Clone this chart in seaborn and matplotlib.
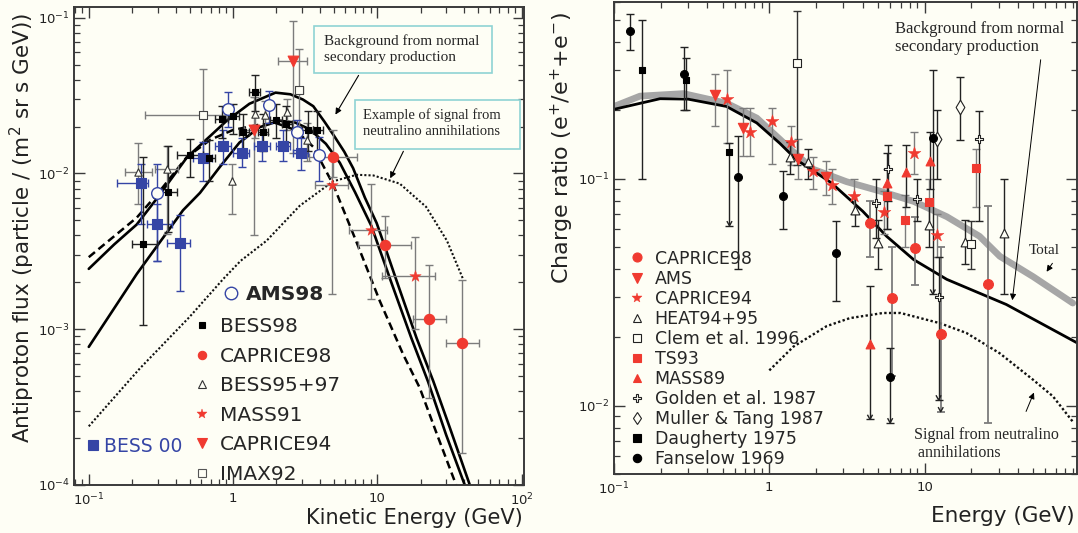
import numpy as np
import matplotlib
matplotlib.use('Agg')
import matplotlib.pyplot as plt
import seaborn as sns
from matplotlib.lines import Line2D
from matplotlib.patches import Rectangle, FancyArrowPatch
from matplotlib.path import Path
from matplotlib.markers import MarkerStyle
import matplotlib.ticker as mticker

# ---------------- data: left panel (antiproton flux) ----------------
bg_upper_x = [0.1, 0.15, 0.215, 0.3, 0.48, 0.7, 0.9, 1.3, 1.97, 2.5, 3.05, 3.6, 4.3, 5.0, 5.9, 6.8, 8.2, 9.9, 11.4, 13.6, 18.7, 24.4, 32.0, 43.8]
bg_upper_y = [2.44e-3, 3.5e-3, 4.7e-3, 7.0e-3, 0.0127, 0.0175, 0.0217, 0.028, 0.0330, 0.0322, 0.0298, 0.027, 0.0215, 0.0175, 0.0138, 0.0108, 7.0e-3, 4.8e-3, 3.3e-3, 2.05e-3, 8.8e-4, 4.66e-4, 2.3e-4, 1.0e-4]
bg_lower_x = [0.1, 0.215, 0.45, 0.59, 0.81, 1.11, 1.53, 2.1, 2.7, 3.4, 4.4, 5.5, 7.0, 9.1, 12.5, 17.2, 22.5, 30.0, 40.4]
bg_lower_y = [7.7e-4, 2.26e-3, 5.8e-3, 7.5e-3, 0.011, 0.0158, 0.0198, 0.0218, 0.0212, 0.0192, 0.0155, 0.0117, 7.6e-3, 4.6e-3, 2.0e-3, 8.8e-4, 4.6e-4, 2.1e-4, 1.0e-4]
bg_dashed_x = [0.1, 0.215, 0.3, 0.477, 0.7, 1.0, 1.5, 2.0, 2.7, 3.6, 4.94, 7.2, 10.4, 15.1, 19.7, 26.0, 35.2]
bg_dashed_y = [2.9e-3, 5.2e-3, 7.4e-3, 0.0127, 0.0165, 0.019, 0.0205, 0.021, 0.019, 0.0148, 8.5e-3, 3.6e-3, 1.52e-3, 6.9e-4, 4.2e-4, 2.1e-4, 1.0e-4]
signal_x = [0.1, 0.226, 0.5, 0.855, 1.13, 1.71, 2.9, 4.94, 7.2, 9.4, 14.3, 21.8, 30.4, 39.3]
signal_y = [2.38e-4, 5.6e-4, 1.2e-3, 2.1e-3, 2.75e-3, 3.7e-3, 6.2e-3, 8.9e-3, 9.8e-3, 9.7e-3, 8.6e-3, 6.1e-3, 3.7e-3, 2.1e-3]

# BESS98 (black squares): x, y, xlo, xhi, ylo, yhi
bess98_x = [0.239, 0.356, 0.50, 0.68, 0.834, 1.0, 1.18, 1.42, 1.62, 2.0, 2.33, 3.32, 3.8]
bess98_y = [3.53e-3, 7.6e-3, 0.0132, 0.0125, 0.0225, 0.0233, 0.0185, 0.0334, 0.0185, 0.0219, 0.0209, 0.0191, 0.0189]
bess98_xlo = [0.198, 0.32, 0.407, 0.62, 0.75, 0.92, 1.1, 1.3, 1.5, 1.8, 2.2, 3.0, 3.6]
bess98_xhi = [0.295, 0.41, 0.62, 0.75, 0.92, 1.1, 1.3, 1.55, 1.75, 2.2, 2.55, 3.6, 4.2]
bess98_ylo = [1.07e-3, 4.2e-3, 9.5e-3, 9.0e-3, 0.017, 0.018, 0.014, 0.025, 0.014, 0.017, 0.016, 0.014, 0.013]
bess98_yhi = [0.0128, 0.0151, 0.0167, 0.0165, 0.027, 0.028, 0.024, 0.043, 0.024, 0.028, 0.027, 0.025, 0.025]

bess00_x = [0.23, 0.299, 0.428, 0.62, 0.85, 1.15, 1.6, 2.23, 2.94]
bess00_y = [8.7e-3, 4.7e-3, 3.56e-3, 0.0125, 0.0151, 0.0135, 0.0149, 0.0149, 0.0135]
bess00_xlo = [0.156, 0.254, 0.347, 0.53, 0.75, 1.0, 1.4, 2.0, 2.6]
bess00_xhi = [0.258, 0.376, 0.502, 0.72, 0.97, 1.3, 1.8, 2.5, 3.3]
bess00_ylo = [4.7e-3, 2.75e-3, 1.77e-3, 9.0e-3, 0.0115, 0.011, 0.012, 0.012, 0.0105]
bess00_yhi = [0.0115, 6.4e-3, 5.4e-3, 0.0159, 0.019, 0.017, 0.018, 0.019, 0.017]

ams98_x = [0.299, 0.92, 1.78, 2.79, 3.95]
ams98_y = [7.5e-3, 0.0258, 0.0274, 0.0185, 0.0132]
ams98_ylo = [2.75e-3, 0.0198, 0.021, 0.0141, 9.0e-3]
ams98_yhi = [0.0115, 0.0333, 0.034, 0.022, 0.0172]

bess95_x = [0.218, 0.347, 0.99, 1.42, 1.66, 2.35, 3.26]
bess95_y = [0.0102, 0.0106, 9.0e-3, 0.0242, 0.0236, 0.0248, 0.0165]
bess95_xlo = [0.178, 0.288, 0.99, 1.42, 1.66, 2.35, 3.26]
bess95_xhi = [0.273, 0.417, 0.99, 1.42, 1.66, 2.35, 3.26]
bess95_ylo = [6.4e-3, 4.1e-3, 5.5e-3, 0.017, 0.018, 0.019, 0.012]
bess95_yhi = [0.0157, 0.0151, 0.0115, 0.031, 0.029, 0.03, 0.021]

imax92_x = [0.62, 2.88]
imax92_y = [0.0236, 0.0345]
imax92_xlo = [0.245, 2.75]
imax92_xhi = [0.90, 3.05]
imax92_ylo = [0.0125, 0.02]
imax92_yhi = [0.047, 0.063]

caprice94_x = [1.4, 2.59]
caprice94_y = [0.0191, 0.0527]
caprice94_xlo = [1.2, 2.05]
caprice94_xhi = [1.65, 3.25]
caprice94_ylo = [4.0e-3, 0.0135]
caprice94_yhi = [0.031, 0.095]

caprice98_x = [4.94, 11.3, 22.8, 38.4]
caprice98_y = [0.0128, 3.49e-3, 1.17e-3, 8.1e-4]
caprice98_xlo = [3.37, 7.3, 17.7, 29.8]
caprice98_xhi = [7.2, 17.2, 29.8, 51.0]
caprice98_ylo = [9.5e-3, 2.14e-3, 3.6e-4, 1.6e-4]
caprice98_yhi = [0.0189, 5.3e-3, 2.6e-3, 2.07e-3]

mass91_x = [4.87, 9.0, 18.2]
mass91_y = [8.4e-3, 4.35e-3, 2.19e-3]
mass91_xlo = [3.69, 6.4, 10.7]
mass91_xhi = [6.28, 11.7, 25.0]
mass91_ylo = [1.68e-3, 1.56e-3, 1.0e-3]
mass91_yhi = [0.0125, 8.6e-3, 3.9e-3]

left_xticks = [0.1, 1, 10, 100]
left_xtick_labels = [r'$10^{-1}$', '1', '10', r'$10^{2}$']
left_yticks = [1e-4, 1e-3, 1e-2, 1e-1]
left_ytick_labels = [r'$10^{-4}$', r'$10^{-3}$', r'$10^{-2}$', r'$10^{-1}$']

# ---------------- data: right panel (positron fraction) ----------------
total_x = [0.1, 0.147, 0.28, 0.53, 0.83, 1.17, 1.45, 1.92, 3.14, 5.2, 8.5, 13.9, 22.6, 30.5, 50.0, 90.0]
total_y = [0.208, 0.231, 0.237, 0.215, 0.185, 0.149, 0.13, 0.11, 0.097, 0.088, 0.0794, 0.068, 0.0557, 0.0455, 0.037, 0.0283]
bgR_x = [0.1, 0.198, 0.3, 0.53, 0.83, 1.17, 1.5, 2.5, 4.0, 5.7, 8.5, 13.9, 33.6, 96.0]
bgR_y = [0.202, 0.225, 0.224, 0.208, 0.176, 0.143, 0.121, 0.096, 0.0718, 0.0557, 0.044, 0.036, 0.0279, 0.0189]
sigR_x = [1.0, 1.43, 2.34, 3.3, 5.4, 7.0, 12.5, 18.6, 30.5, 50.0, 67.0, 90.0]
sigR_y = [0.0143, 0.0182, 0.0224, 0.0243, 0.0256, 0.0256, 0.0231, 0.0209, 0.017, 0.013, 0.011, 0.0085]

fans_x = [0.127, 0.282, 0.632, 1.23, 2.69, 6.0, 11.3]
fans_y = [0.449, 0.29, 0.1013, 0.084, 0.047, 0.0134, 0.151]
fans_ylo = [0.37, 0.20, 0.04, 0.060, 0.0288, 8.4e-3, 0.031]
fans_yhi = [0.53, 0.38, 0.154, 0.108, 0.065, 0.0179, 0.30]

daug_x = [0.151, 0.29, 0.554]
daug_y = [0.302, 0.271, 0.131]
daug_ylo = [0.10, 0.20, 0.062]
daug_yhi = [0.50, 0.34, 0.143]

cap98R_x = [4.45, 6.2, 8.7, 12.7, 25.5]
cap98R_y = [0.064, 0.0298, 0.0495, 0.0206, 0.0344]
cap98R_ylo = [0.045, 0.0135, 0.034, 9.4e-3, 8.4e-3]
cap98R_yhi = [0.08, 0.05, 0.068, 0.05, 0.076]

ams_x = [0.447, 0.68, 1.53, 2.32]
ams_y = [0.233, 0.167, 0.122, 0.102]
ams_ylo = [0.17, 0.126, 0.10, 0.085]
ams_yhi = [0.29, 0.205, 0.15, 0.12]

cap94R_x = [0.532, 0.75, 1.04, 1.38, 1.92, 2.55, 3.5, 5.5, 8.6, 12.0]
cap94R_y = [0.224, 0.161, 0.179, 0.145, 0.108, 0.094, 0.0836, 0.071, 0.13, 0.0566]
cap94R_ylo = [0.143, 0.126, 0.116, 0.115, 0.09, 0.077, 0.07, 0.057, 0.105, 0.045]
cap94R_yhi = [0.30, 0.205, 0.205, 0.17, 0.125, 0.11, 0.10, 0.088, 0.16, 0.07]

heat_x = [1.36, 1.77, 3.55, 5.0, 10.7, 18.2, 32.4]
heat_y = [0.124, 0.118, 0.073, 0.052, 0.0627, 0.0524, 0.0576]
heat_ylo = [0.105, 0.10, 0.062, 0.04, 0.05, 0.042, 0.031]
heat_yhi = [0.145, 0.135, 0.085, 0.066, 0.08, 0.066, 0.10]

clem_x = [1.5, 20.0]
clem_y = [0.324, 0.0516]
clem_ylo = [0.115, 0.04]
clem_yhi = [0.55, 0.065]

ts93_x = [5.7, 7.5, 10.7, 21.5]
ts93_y = [0.0836, 0.066, 0.0786, 0.111]
ts93_ylo = [0.06, 0.05, 0.06, 0.075]
ts93_yhi = [0.11, 0.085, 0.10, 0.135]

mass89_x = [4.45, 5.7, 7.6, 10.8]
mass89_y = [0.0187, 0.0957, 0.1065, 0.12]
mass89_ylo = [8.7e-3, 0.06, 0.075, 0.09]
mass89_yhi = [0.0336, 0.13, 0.14, 0.16]

golden_x = [4.9, 5.8, 9.0, 12.3, 22.3]
golden_y = [0.078, 0.11, 0.0814, 0.030, 0.149]
golden_ylo = [0.055, 0.08, 0.065, 0.0106, 0.0648]
golden_yhi = [0.10, 0.14, 0.10, 0.045, 0.198]

muller_x = [12.0, 16.9]
muller_y = [0.15, 0.206]
muller_ylo = [0.10, 0.148]
muller_yhi = [0.20, 0.28]

limit_x = [0.554, 4.45, 6.0, 11.3, 12.3, 12.7]
limit_y = [0.062, 8.7e-3, 8.4e-3, 0.031, 0.0106, 9.4e-3]

right_xticks = [0.1, 1, 10]
right_xtick_labels = [r'$10^{-1}$', '1', '10']
right_yticks = [1e-2, 1e-1]
right_ytick_labels = [r'$10^{-2}$', r'$10^{-1}$']

# ---------------- style ----------------
sns.set_style('ticks')
plt.rcParams['font.family'] = ['DejaVu Sans']
plt.rcParams['mathtext.fontset'] = 'dejavusans'
BG = '#fefef5'
RED = '#f03a30'
BLUE = '#3545a5'
GRAY = '#7c7c7c'
DARK = '#222222'
SPINE = '#3a3a3a'
BOXC = '#8fd3d4'

W, H = 1078, 533
fig = plt.figure(figsize=(W / 100, H / 100), dpi=100, facecolor=BG)
axL = fig.add_axes([74 / W, 1 - 485 / H, 450 / W, 478 / H])
axR = fig.add_axes([614 / W, 1 - 474 / H, 463 / W, 472 / H])


def fx(px):
    return px / W


def fy(py):
    return 1 - py / H


def points(ax, x, y, ylo, yhi, xlo=None, xhi=None, marker='o', s=40,
           face='k', edge='k', ecolor=GRAY, elw=1.0, mew=0.8):
    x = np.asarray(x, float)
    y = np.asarray(y, float)
    yerr = [y - np.asarray(ylo, float), np.asarray(yhi, float) - y]
    xerr = None
    if xlo is not None:
        xerr = [x - np.asarray(xlo, float), np.asarray(xhi, float) - x]
    ax.errorbar(x, y, yerr=yerr, xerr=xerr, fmt='none', ecolor=ecolor,
                elinewidth=elw, capsize=3.2, capthick=elw, zorder=3)
    sns.scatterplot(x=x, y=y, marker=marker, s=s, color=face, edgecolor=edge,
                    linewidth=mew, ax=ax, zorder=4, legend=False)


for ax in (axL, axR):
    ax.set_facecolor(BG)
    ax.set_xscale('log')
    ax.set_yscale('log')
    for sp in ax.spines.values():
        sp.set_color(SPINE)
        sp.set_linewidth(1.4)
    ax.tick_params(which='major', direction='in', length=8, width=1.0,
                   top=True, right=True, colors=SPINE, labelcolor=DARK,
                   labelsize=9.5, pad=5)
    ax.tick_params(which='minor', direction='in', length=4.5, width=0.9,
                   top=True, right=True, colors=SPINE)
    ax.xaxis.set_minor_locator(mticker.LogLocator(base=10, subs=np.arange(2, 10), numticks=20))
    ax.yaxis.set_minor_locator(mticker.LogLocator(base=10, subs=np.arange(2, 10), numticks=20))
    ax.xaxis.set_minor_formatter(mticker.NullFormatter())
    ax.yaxis.set_minor_formatter(mticker.NullFormatter())
    ax.tick_params(axis='y', which='major', pad=3)

# ---------------- left panel ----------------
sns.lineplot(x=bg_upper_x, y=bg_upper_y, ax=axL, color='k', lw=1.9, sort=False, estimator=None, zorder=2)
sns.lineplot(x=bg_lower_x, y=bg_lower_y, ax=axL, color='k', lw=1.9, sort=False, estimator=None, zorder=2)
sns.lineplot(x=bg_dashed_x, y=bg_dashed_y, ax=axL, color='k', lw=1.8, linestyle=(0, (3.2, 1.8)), sort=False, estimator=None, zorder=2)
sns.lineplot(x=signal_x, y=signal_y, ax=axL, color='#111111', lw=1.5, linestyle=(0, (1, 1.0)), sort=False, estimator=None, zorder=2)

points(axL, bess95_x, bess95_y, bess95_ylo, bess95_yhi, bess95_xlo, bess95_xhi, marker='^', s=28, face=BG, edge='#333333', ecolor=GRAY)
points(axL, imax92_x, imax92_y, imax92_ylo, imax92_yhi, imax92_xlo, imax92_xhi, marker='s', s=36, face=BG, edge='#444444', ecolor=GRAY)
points(axL, caprice94_x, caprice94_y, caprice94_ylo, caprice94_yhi, caprice94_xlo, caprice94_xhi, marker='v', s=60, face=RED, edge=RED, ecolor=GRAY)
points(axL, caprice98_x, caprice98_y, caprice98_ylo, caprice98_yhi, caprice98_xlo, caprice98_xhi, marker='o', s=55, face=RED, edge=RED, ecolor=GRAY)
points(axL, mass91_x, mass91_y, mass91_ylo, mass91_yhi, mass91_xlo, mass91_xhi, marker='*', s=75, face=RED, edge=RED, ecolor=GRAY, mew=0.3)
points(axL, bess00_x, bess00_y, bess00_ylo, bess00_yhi, bess00_xlo, bess00_xhi, marker='s', s=48, face=BLUE, edge=BLUE, ecolor=BLUE)
points(axL, ams98_x, ams98_y, ams98_ylo, ams98_yhi, marker='o', s=70, face=BG, edge=BLUE, ecolor=BLUE, mew=1.0)
points(axL, bess98_x, bess98_y, bess98_ylo, bess98_yhi, bess98_xlo, bess98_xhi, marker='s', s=22, face='k', edge='k', ecolor='#222222')

axL.set_xticks(left_xticks, left_xtick_labels)
axL.set_yticks(left_yticks, left_ytick_labels)
axL.set_xlim(0.079, 104)
axL.set_ylim(1e-4, 0.117)
axL.set_xlabel('')
axL.set_ylabel('')

# ---------------- right panel ----------------
sns.lineplot(x=total_x, y=total_y, ax=axR, color='#a6a6a6', lw=4.8, sort=False, estimator=None, zorder=2)
sns.lineplot(x=bgR_x, y=bgR_y, ax=axR, color='k', lw=2.0, sort=False, estimator=None, zorder=2)
sns.lineplot(x=sigR_x, y=sigR_y, ax=axR, color='#111111', lw=1.7, linestyle=(0, (1, 1.0)), sort=False, estimator=None, zorder=2)

points(axR, cap94R_x, cap94R_y, cap94R_ylo, cap94R_yhi, marker='*', s=95, face=RED, edge=RED, ecolor=GRAY, mew=0.3)
points(axR, ams_x, ams_y, ams_ylo, ams_yhi, marker='v', s=55, face=RED, edge=RED, ecolor=GRAY)
points(axR, cap98R_x, cap98R_y, cap98R_ylo, cap98R_yhi, marker='o', s=50, face=RED, edge=RED, ecolor=GRAY, elw=1.3)
points(axR, ts93_x, ts93_y, ts93_ylo, ts93_yhi, marker='s', s=30, face=RED, edge=RED, ecolor=GRAY)
points(axR, mass89_x, mass89_y, mass89_ylo, mass89_yhi, marker='^', s=40, face=RED, edge=RED, ecolor='#222222')
points(axR, heat_x, heat_y, heat_ylo, heat_yhi, marker='^', s=40, face=BG, edge='#222222', ecolor='#222222')
points(axR, clem_x, clem_y, clem_ylo, clem_yhi, marker='s', s=38, face=BG, edge='#222222', ecolor='#333333')
points(axR, golden_x, golden_y, golden_ylo, golden_yhi, marker='P', s=40, face=BG, edge='#222222', ecolor='#222222')
points(axR, muller_x, muller_y, muller_ylo, muller_yhi, marker='d', s=55, face=BG, edge='#222222', ecolor='#222222')
points(axR, daug_x, daug_y, daug_ylo, daug_yhi, marker='s', s=18, face='k', edge='k', ecolor='#222222')
points(axR, fans_x, fans_y, fans_ylo, fans_yhi, marker='o', s=32, face='k', edge='k', ecolor='#222222')

vpath = Path([(-0.55, 1.0), (0.0, 0.0), (0.55, 1.0)], [Path.MOVETO, Path.LINETO, Path.LINETO])
sns.scatterplot(x=limit_x, y=limit_y, marker=MarkerStyle(vpath), s=45, facecolor='none',
                edgecolor='#222222', linewidth=1.0, ax=axR, zorder=4, legend=False)

axR.set_xticks(right_xticks, right_xtick_labels)
axR.set_yticks(right_yticks, right_ytick_labels)
axR.set_xlim(0.1, 95.8)
axR.set_ylim(5e-3, 0.6)
axR.set_xlabel('')
axR.set_ylabel('')

# ---------------- axis titles ----------------
fig.text(fx(22), fy(228), 'Antiproton flux (particle / (m$^2$ sr s GeV))', rotation=90,
         ha='center', va='center', fontsize=15.5, color=DARK)
fig.text(fx(523), fy(518), 'Kinetic Energy (GeV)', ha='right', va='center', fontsize=15, color=DARK)
fig.text(fx(562), fy(148), 'Charge ratio (e$^{+}$/e$^{+}$+e$^{-}$)', rotation=90,
         ha='center', va='center', fontsize=16, color=DARK)
fig.text(fx(1075), fy(516), 'Energy (GeV)', ha='right', va='center', fontsize=15.5, color=DARK)

# ---------------- annotations ----------------
SERIF = ['Liberation Serif', 'DejaVu Serif']
fig.add_artist(Rectangle((fx(314), fy(73)), (491.7 - 314) / W, (73 - 25.8) / H,
                         transform=fig.transFigure, facecolor=BG, edgecolor=BOXC, lw=1.2, zorder=5))
fig.text(fx(323.7), fy(49.4), 'Background from normal\nsecondary production', ha='left', va='center',
         fontsize=11, family=SERIF, linespacing=1.3, zorder=6)
fig.add_artist(Rectangle((fx(354.7), fy(148.8)), (520 - 354.7) / W, (148.8 - 100.5) / H,
                         transform=fig.transFigure, facecolor=BG, edgecolor=BOXC, lw=1.2, zorder=5))
fig.text(fx(363.3), fy(123), 'Example of signal from\nneutralino annihilations', ha='left', va='center',
         fontsize=10.5, family=SERIF, linespacing=1.25, zorder=6)


def arrow(p0, p1, lw=0.8, ms=9):
    fig.add_artist(FancyArrowPatch((fx(p0[0]), fy(p0[1])), (fx(p1[0]), fy(p1[1])),
                                   transform=fig.transFigure, arrowstyle='-|>',
                                   mutation_scale=ms, lw=lw, color='k', zorder=6))


arrow((360, 73), (334, 117))
arrow((404.6, 148.8), (389, 180.8))

fig.text(fx(895), fy(38), 'Background from normal\nsecondary production', ha='left', va='center',
         fontsize=12, family=SERIF, linespacing=1.2)
arrow((1041, 57), (1012, 303), lw=0.7)
fig.text(fx(1044), fy(251), 'Total', ha='center', va='center', fontsize=11, family=SERIF)
arrow((1054, 261), (1045, 274), lw=0.7)
fig.text(fx(914), fy(444), 'Signal from neutralino\n annihilations', ha='left', va='center',
         fontsize=11.5, family=SERIF, linespacing=1.2)
arrow((1025, 414), (1035, 390), lw=0.7)

# ---------------- legends ----------------
def mk(marker, face, edge, ms, mew=0.8):
    return Line2D([], [], ls='none', marker=marker, markerfacecolor=face,
                  markeredgecolor=edge, markersize=ms, markeredgewidth=mew)


legA = fig.legend([mk('o', BG, BLUE, 9, 1.0)], ['AMS98'], loc='upper left',
                  bbox_to_anchor=(fx(224.9), fy(285)), frameon=False,
                  prop={'size': 14.5, 'weight': 'bold'}, handlelength=0.6,
                  handletextpad=0.42, borderpad=0, borderaxespad=0)
legL = fig.legend([mk('s', 'k', 'k', 5), mk('o', RED, RED, 6), mk('^', BG, '#333333', 5.5),
                   mk('*', RED, RED, 7, 0.3), mk('v', RED, RED, 6.5), mk('s', BG, '#555555', 6)],
                  ['BESS98', 'CAPRICE98', 'BESS95+97', 'MASS91', 'CAPRICE94', 'IMAX92'],
                  loc='upper left', bbox_to_anchor=(fx(193.6), fy(317.5)), frameon=False,
                  fontsize=14.5, handlelength=0.8, handletextpad=0.5, labelspacing=0.52,
                  borderpad=0, borderaxespad=0)
legB = fig.legend([mk('s', BLUE, BLUE, 6.5)], ['BESS 00'], loc='upper left',
                  bbox_to_anchor=(fx(88.5), fy(436.5)), frameon=False, fontsize=13.5,
                  handlelength=0.5, handletextpad=0.3, borderpad=0, borderaxespad=0)
legB.get_texts()[0].set_color(BLUE)

legR = fig.legend([mk('o', RED, RED, 6.5), mk('v', RED, RED, 6.5), mk('*', RED, RED, 7.5, 0.3),
                   mk('^', BG, '#222222', 5.5), mk('s', BG, '#222222', 5.5), mk('s', RED, RED, 5.5),
                   mk('^', RED, RED, 6), mk('P', BG, '#222222', 6), mk('d', BG, '#222222', 6),
                   mk('s', 'k', 'k', 5.5), mk('o', 'k', 'k', 6)],
                  ['CAPRICE98', 'AMS', 'CAPRICE94', 'HEAT94+95', 'Clem et al. 1996', 'TS93',
                   'MASS89', 'Golden et al. 1987', 'Muller & Tang 1987', 'Daugherty 1975',
                   'Fanselow 1969'],
                  loc='upper left', bbox_to_anchor=(fx(630.3), fy(249.5)), frameon=False,
                  fontsize=12.5, handlelength=0.8, handletextpad=0.6, labelspacing=0.12,
                  borderpad=0, borderaxespad=0)

fig.savefig('out.png', dpi=100, facecolor=BG)
